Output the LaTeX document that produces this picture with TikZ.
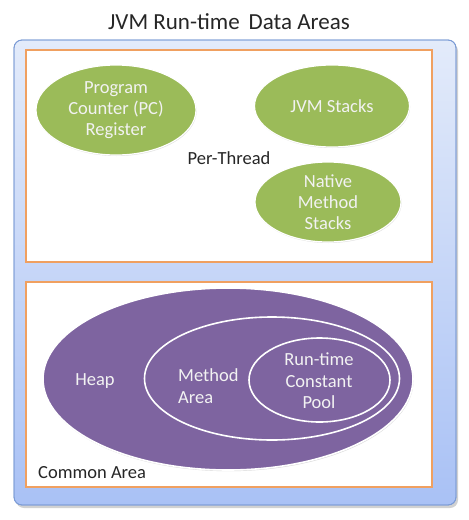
\documentclass[tikz,border=0pt]{standalone}
\usepackage{fontspec}
\setmainfont{Carlito}
\usetikzlibrary{shapes.geometric,shadows}
\definecolor{outerTop}{HTML}{E3EBFA}
\definecolor{outerBot}{HTML}{A9C1F5}
\definecolor{outerLine}{HTML}{7C9CD6}
\definecolor{orangeLine}{HTML}{F0A060}
\definecolor{greenFill}{HTML}{9BBB59}
\definecolor{purpleFill}{HTML}{7E64A0}
\definecolor{lightText}{HTML}{F2F2F2}
\definecolor{darkText}{HTML}{262626}
\begin{document}
\begin{tikzpicture}[x=1pt,y=-1pt,
  areabox/.style={draw=orangeLine,line width=1.6pt,fill=white},
  greenell/.style={ellipse,fill=greenFill,draw=white,line width=1.2pt,
    drop shadow={shadow xshift=0.6pt,shadow yshift=-1pt,opacity=0.25},
    text=lightText,font=\fontsize{18.5}{21}\selectfont,align=center,inner sep=0pt},
  purpleell/.style={ellipse,fill=purpleFill,draw=white,line width=1.6pt,inner sep=0pt},
  lbl/.style={text=darkText,font=\fontsize{18.5}{21}\selectfont,inner sep=0pt},
  wlbl/.style={text=lightText,font=\fontsize{18.5}{21.5}\selectfont,inner sep=0pt,align=center}]
\useasboundingbox (0,0) rectangle (469,520);
\fill[white] (0,0) rectangle (469,520);
% title
\node[lbl,font=\fontsize{23}{26}\selectfont] (title) at (229,22) {JVM Run-time\, Data Areas};
% outer box
\fill[black,opacity=0.18,rounded corners=8pt] (16,43) rectangle (458,508);
\shade[top color=outerTop,bottom color=outerBot,rounded corners=8pt,draw=outerLine,line width=0.8pt]
  (14,40) rectangle (456,505);
\node[draw=outerLine,line width=0.8pt,rounded corners=8pt,minimum width=442pt,minimum height=465pt,inner sep=0pt] (outer) at (235,272.5) {};
% per-thread box
\node[areabox,minimum width=406pt,minimum height=212pt,inner sep=0pt] (perthread) at (229,156) {};
\node[greenell,minimum width=160pt,minimum height=90pt] (pc) at (116,110) {Program\\Counter (PC)\\Register};
\node[greenell,minimum width=155pt,minimum height=82pt] (jvms) at (332,106) {JVM Stacks};
\node[greenell,minimum width=146pt,minimum height=80pt] (native) at (328,202) {Native\\Method\\Stacks};
\node[lbl] (ptlabel) at (229,158) {Per-Thread};
% common area box
\node[areabox,minimum width=406pt,minimum height=205pt,inner sep=0pt] (common) at (229,384.5) {};
\node[purpleell,minimum width=370pt,minimum height=182pt,
  drop shadow={shadow xshift=0.6pt,shadow yshift=-1.2pt,opacity=0.3}] (heap) at (228,379) {};
\node[purpleell,minimum width=255pt,minimum height=123pt] (method) at (272,378.5) {};
\node[purpleell,minimum width=141pt,minimum height=84pt] (pool) at (319.5,380) {};
\node[wlbl] (heaplbl) at (95,381) {Heap};
\node[wlbl,align=left,anchor=west] (methodlbl) at (178,386) {Method\\Area};
\node[wlbl] (poollbl) at (319,381) {Run-time\\Constant\\Pool};
\node[lbl,anchor=west] (commonlbl) at (38,473) {Common Area};
\end{tikzpicture}
\end{document}
